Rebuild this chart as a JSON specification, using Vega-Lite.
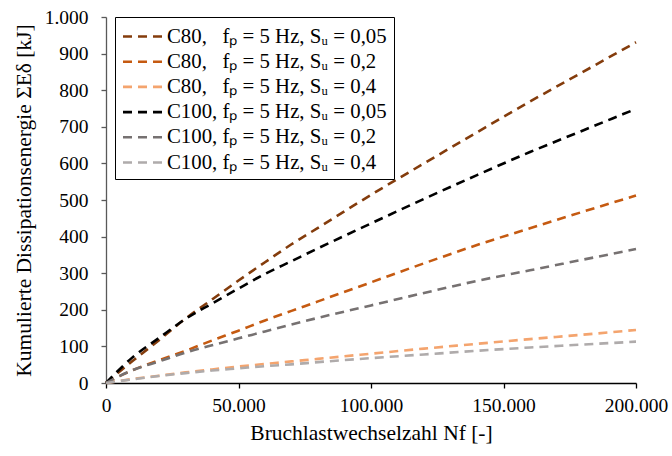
{
  "$schema": "https://vega.github.io/schema/vega-lite/v6.json",
  "width": 530,
  "height": 366,
  "autosize": {"type": "none"},
  "padding": {"left": 106, "top": 17, "right": 36, "bottom": 73},
  "background": "white",
  "config": {
    "view": {"stroke": null},
    "font": "Liberation Serif",
    "axis": {"labelFont": "Liberation Serif", "titleFont": "Liberation Serif", "labelColor": "black", "titleColor": "black", "labelFontSize": 19.5, "titleFontSize": 21.5, "titleFontWeight": "normal", "grid": false, "domainColor": "black", "tickColor": "black", "tickSize": 5, "domainWidth": 1.3, "tickWidth": 1.3},
    "legend": {"labelFont": "Liberation Serif", "labelFontSize": 20.8, "labelColor": "black"}
  },
  "data": {
    "values": [
      {"s": "a", "n": 0, "e": 0}, {"s": "a", "n": 10000, "e": 60}, {"s": "a", "n": 20000, "e": 117}, {"s": "a", "n": 30000, "e": 176}, {"s": "a", "n": 40000, "e": 228}, {"s": "a", "n": 50000, "e": 280}, {"s": "a", "n": 60000, "e": 330}, {"s": "a", "n": 70000, "e": 379}, {"s": "a", "n": 80000, "e": 424}, {"s": "a", "n": 100000, "e": 514}, {"s": "a", "n": 120000, "e": 600}, {"s": "a", "n": 140000, "e": 685}, {"s": "a", "n": 160000, "e": 769}, {"s": "a", "n": 180000, "e": 850}, {"s": "a", "n": 200000, "e": 931},
      {"s": "b", "n": 0, "e": 0}, {"s": "b", "n": 10000, "e": 35}, {"s": "b", "n": 20000, "e": 62}, {"s": "b", "n": 30000, "e": 88}, {"s": "b", "n": 40000, "e": 116}, {"s": "b", "n": 50000, "e": 143}, {"s": "b", "n": 60000, "e": 171}, {"s": "b", "n": 70000, "e": 197}, {"s": "b", "n": 80000, "e": 223}, {"s": "b", "n": 100000, "e": 275}, {"s": "b", "n": 120000, "e": 327}, {"s": "b", "n": 140000, "e": 377}, {"s": "b", "n": 160000, "e": 423}, {"s": "b", "n": 180000, "e": 468}, {"s": "b", "n": 200000, "e": 512},
      {"s": "c", "n": 0, "e": 0}, {"s": "c", "n": 10000, "e": 11}, {"s": "c", "n": 20000, "e": 20}, {"s": "c", "n": 30000, "e": 29}, {"s": "c", "n": 40000, "e": 37}, {"s": "c", "n": 50000, "e": 45}, {"s": "c", "n": 60000, "e": 52}, {"s": "c", "n": 70000, "e": 59}, {"s": "c", "n": 80000, "e": 66}, {"s": "c", "n": 100000, "e": 80}, {"s": "c", "n": 120000, "e": 94}, {"s": "c", "n": 140000, "e": 107}, {"s": "c", "n": 160000, "e": 120}, {"s": "c", "n": 180000, "e": 132}, {"s": "c", "n": 200000, "e": 145},
      {"s": "d", "n": 0, "e": 0}, {"s": "d", "n": 10000, "e": 70}, {"s": "d", "n": 20000, "e": 123}, {"s": "d", "n": 30000, "e": 175}, {"s": "d", "n": 40000, "e": 217}, {"s": "d", "n": 50000, "e": 258}, {"s": "d", "n": 60000, "e": 298}, {"s": "d", "n": 70000, "e": 333}, {"s": "d", "n": 80000, "e": 368}, {"s": "d", "n": 100000, "e": 436}, {"s": "d", "n": 120000, "e": 503}, {"s": "d", "n": 140000, "e": 568}, {"s": "d", "n": 160000, "e": 631}, {"s": "d", "n": 180000, "e": 690}, {"s": "d", "n": 200000, "e": 749},
      {"s": "e", "n": 0, "e": 0}, {"s": "e", "n": 10000, "e": 35}, {"s": "e", "n": 20000, "e": 59}, {"s": "e", "n": 30000, "e": 83}, {"s": "e", "n": 40000, "e": 103}, {"s": "e", "n": 50000, "e": 122}, {"s": "e", "n": 60000, "e": 141}, {"s": "e", "n": 70000, "e": 160}, {"s": "e", "n": 80000, "e": 178}, {"s": "e", "n": 100000, "e": 212}, {"s": "e", "n": 120000, "e": 246}, {"s": "e", "n": 140000, "e": 279}, {"s": "e", "n": 160000, "e": 308}, {"s": "e", "n": 180000, "e": 337}, {"s": "e", "n": 200000, "e": 366},
      {"s": "f", "n": 0, "e": 0}, {"s": "f", "n": 10000, "e": 10}, {"s": "f", "n": 20000, "e": 19}, {"s": "f", "n": 30000, "e": 27}, {"s": "f", "n": 40000, "e": 34}, {"s": "f", "n": 50000, "e": 40}, {"s": "f", "n": 60000, "e": 46}, {"s": "f", "n": 70000, "e": 51}, {"s": "f", "n": 80000, "e": 57}, {"s": "f", "n": 100000, "e": 68}, {"s": "f", "n": 120000, "e": 78}, {"s": "f", "n": 140000, "e": 88}, {"s": "f", "n": 160000, "e": 97}, {"s": "f", "n": 180000, "e": 105}, {"s": "f", "n": 200000, "e": 113}
    ]
  },
  "mark": {"type": "line", "strokeDash": [9, 6], "strokeWidth": 2.6, "interpolate": "monotone"},
  "encoding": {
    "x": {
      "field": "n", "type": "quantitative",
      "scale": {"domain": [0, 200000], "nice": false},
      "axis": {"values": [0, 50000, 100000, 150000, 200000], "labelExpr": "replace(format(datum.value, ','), ',', '.')", "labelPadding": 8, "title": "Bruchlastwechselzahl Nf [-]", "titlePadding": 8, "labelFlush": false}
    },
    "y": {
      "field": "e", "type": "quantitative",
      "scale": {"domain": [0, 1000], "nice": false},
      "axis": {"values": [0, 100, 200, 300, 400, 500, 600, 700, 800, 900, 1000], "labelExpr": "replace(format(datum.value, ','), ',', '.')", "labelPadding": 13, "title": "Kumulierte Dissipationsenergie ΣEδ [kJ]", "titlePadding": 9, "labelFlush": false, "domainColor": "#595959", "tickColor": "#595959"}
    },
    "color": {
      "field": "s", "type": "nominal",
      "scale": {"domain": ["a", "b", "c", "d", "e", "f"], "range": ["#843C0C", "#C55A11", "#F4A46E", "#000000", "#767171", "#AFABAB"]},
      "legend": {
        "title": null,
        "orient": "none", "legendX": 9, "legendY": 0,
        "labelExpr": "{'a': 'C80,\u00a0\u00a0 fₚ = 5 Hz, Sᵤ = 0,05', 'b': 'C80,\u00a0\u00a0 fₚ = 5 Hz, Sᵤ = 0,2', 'c': 'C80,\u00a0\u00a0 fₚ = 5 Hz, Sᵤ = 0,4', 'd': 'C100, fₚ = 5 Hz, Sᵤ = 0,05', 'e': 'C100, fₚ = 5 Hz, Sᵤ = 0,2', 'f': 'C100, fₚ = 5 Hz, Sᵤ = 0,4'}[datum.value]",
        "symbolType": "M-2,0H2", "symbolSize": 529, "symbolStrokeWidth": 2.6, "symbolDash": [9, 6], "symbolOffset": 11.5,
        "labelOffset": 8, "rowPadding": 2.2, "labelLimit": 0,
        "strokeColor": "black", "fillColor": "white", "padding": 6.5
      }
    }
  }
}
